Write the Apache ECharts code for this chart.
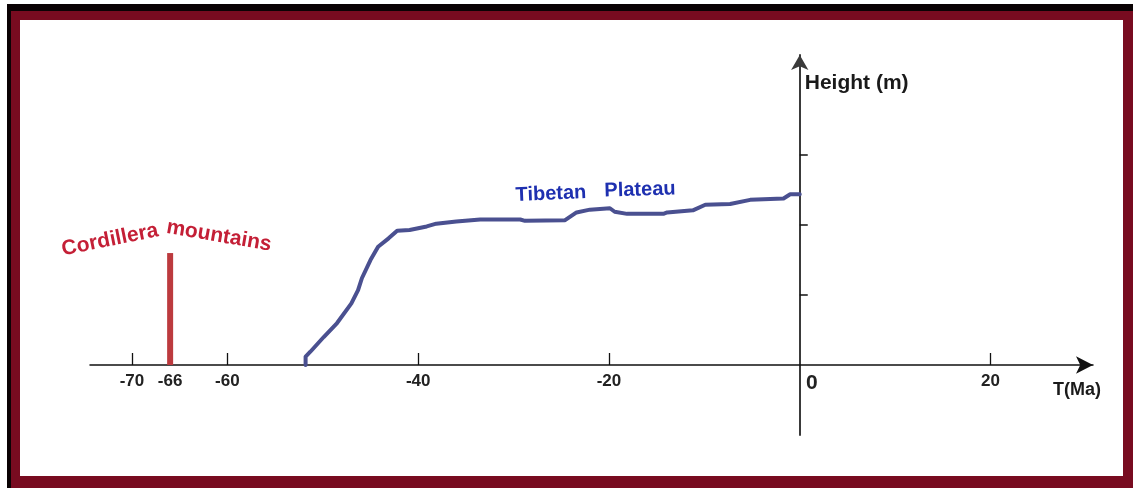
<!DOCTYPE html>
<html>
<head>
<meta charset="utf-8">
<title>Uplift history</title>
<script src="https://cdn.jsdelivr.net/npm/echarts@6/dist/echarts.min.js"></script>
<style>
  html, body { margin: 0; padding: 0; background: #ffffff; width: 1133px; height: 488px; overflow: hidden; }
  #outer { position: absolute; left: 7px; top: 4px; width: 1126px; height: 484px; background: #0a0204; }
  #red { position: absolute; left: 11px; top: 11px; width: 1122px; height: 477px; background: #780b20; }
  #inner { position: absolute; left: 20px; top: 20px; width: 1103px; height: 456px; background: #ffffff; }
  #chart { position: absolute; left: 0; top: 0; width: 1133px; height: 488px; }
</style>
</head>
<body>
<div id="outer"></div>
<div id="red"></div>
<div id="inner"></div>
<div id="chart"></div>
<script>
// ---- data ----
// Tibetan Plateau height curve: time (Ma) and relative height
const plateauT = [-51.8, -51.8, -51.3, -49.9, -48.5, -47.0, -46.3, -45.9, -45.0, -44.2, -43.1, -42.2, -40.9, -39.1, -38.1, -36.0, -33.5, -29.3, -28.8, -24.6, -23.4, -22.0, -19.9, -19.4, -18.1, -14.3, -13.9, -11.2, -9.9, -7.3, -5.2, -1.7, -1.0, 0];
const plateauH = [0, 0.12, 0.19, 0.40, 0.60, 0.88, 1.07, 1.24, 1.50, 1.69, 1.81, 1.92, 1.93, 1.98, 2.02, 2.05, 2.08, 2.08, 2.06, 2.07, 2.18, 2.22, 2.24, 2.19, 2.16, 2.16, 2.18, 2.21, 2.29, 2.30, 2.36, 2.38, 2.44, 2.44];
// Cordillera mountains event
const cordilleraT = [-66];
const cordilleraH = [1.6];
// axis ticks / labels
const xLabelValues = [-70, -66, -60, -40, -20, 0, 20];
const xTickValues = [-70, -60, -40, -20, 20];
const yTickValues = [1, 2, 3];
const xName = 'T(Ma)';
const yName = 'Height (m)';
const plateauWords = ['Tibetan', 'Plateau'];
const cordilleraWords = ['Cordillera', 'mountains'];

const plateauData = plateauT.map((t, i) => [t, plateauH[i]]);
const cordilleraData = cordilleraT.map((t, i) => [t, cordilleraH[i]]);

const FONT = '"Liberation Sans", Arial, sans-serif';

const chart = echarts.init(document.getElementById('chart'), null, { renderer: 'canvas' });
chart.setOption({
  animation: false,
  backgroundColor: 'transparent',
  grid: { left: 90, right: 40, top: 55, bottom: 53, containLabel: false },
  xAxis: {
    type: 'value',
    min: -74.4,
    max: 30.74,
    position: 'bottom',
    offset: -70,
    name: xName,
    nameLocation: 'end',
    nameGap: -40,
    nameTextStyle: {
      fontFamily: FONT, fontWeight: 'bold', fontSize: 18, color: '#1a1a1a',
      align: 'left', verticalAlign: 'top', padding: [16, 0, 0, 0]
    },
    axisLine: {
      onZero: false,
      symbol: ['none', 'arrow'],
      symbolSize: [13, 17],
      lineStyle: { color: '#111111', width: 1.5 }
    },
    axisTick: {
      show: true, inside: true, length: 12,
      customValues: xTickValues,
      lineStyle: { color: '#111111', width: 1.3 }
    },
    axisLabel: {
      show: true,
      customValues: xLabelValues,
      margin: 8,
      fontFamily: FONT, fontWeight: 'bold', fontSize: 17, color: '#222222',
      formatter: function (v) { return v === 0 ? '{z|0}' : '{n|' + v + '}'; },
      rich: {
        n: { fontFamily: FONT, fontWeight: 'bold', fontSize: 17, color: '#222222' },
        z: { fontFamily: FONT, fontWeight: 'bold', fontSize: 21, color: '#222222', padding: [0, 0, 0, 24] }
      }
    },
    splitLine: { show: false }
  },
  yAxis: {
    type: 'value',
    min: -1,
    max: 4.43,
    name: yName,
    nameLocation: 'end',
    nameGap: -28,
    nameTextStyle: {
      fontFamily: FONT, fontWeight: 'bold', fontSize: 21, color: '#1a1a1a',
      align: 'left', verticalAlign: 'middle', padding: [0, 0, 0, 5]
    },
    axisLine: {
      show: true,
      onZero: true,
      symbol: ['none', 'arrow'],
      symbolSize: [13, 15],
      lineStyle: { color: '#3a3a3a', width: 2 }
    },
    axisTick: {
      show: true, inside: true, length: 8,
      customValues: yTickValues,
      lineStyle: { color: '#111111', width: 1.5 }
    },
    axisLabel: { show: false },
    splitLine: { show: false }
  },
  series: [
    {
      name: 'Tibetan Plateau',
      type: 'line',
      data: plateauData,
      showSymbol: false,
      symbol: 'none',
      smooth: false,
      lineStyle: { color: '#4a5090', width: 4, join: 'round', cap: 'round' },
      z: 5
    },
    {
      name: 'Cordillera mountains',
      type: 'bar',
      data: cordilleraData,
      barWidth: 6,
      itemStyle: { color: '#bc3a3e' },
      z: 4
    }
  ],
  graphic: [
    {
      type: 'text', x: 110, y: 240, rotation: 0.2, z: 10,
      style: { text: cordilleraWords[0], x: 0, y: 0, align: 'center', verticalAlign: 'middle',
        font: 'bold 21px ' + FONT, fill: '#c41f36' }
    },
    {
      type: 'text', x: 219, y: 236, rotation: -0.17, z: 10,
      style: { text: cordilleraWords[1], x: 0, y: 0, align: 'center', verticalAlign: 'middle',
        font: 'bold 21px ' + FONT, fill: '#c41f36' }
    },
    {
      type: 'text', x: 551, y: 194, rotation: 0.04, z: 10,
      style: { text: plateauWords[0], x: 0, y: 0, align: 'center', verticalAlign: 'middle',
        font: 'bold 20px ' + FONT, fill: '#1e30b0' }
    },
    {
      type: 'text', x: 640, y: 190, rotation: 0.03, z: 10,
      style: { text: plateauWords[1], x: 0, y: 0, align: 'center', verticalAlign: 'middle',
        font: 'bold 20px ' + FONT, fill: '#1e30b0' }
    }
  ]
});
</script>
</body>
</html>
